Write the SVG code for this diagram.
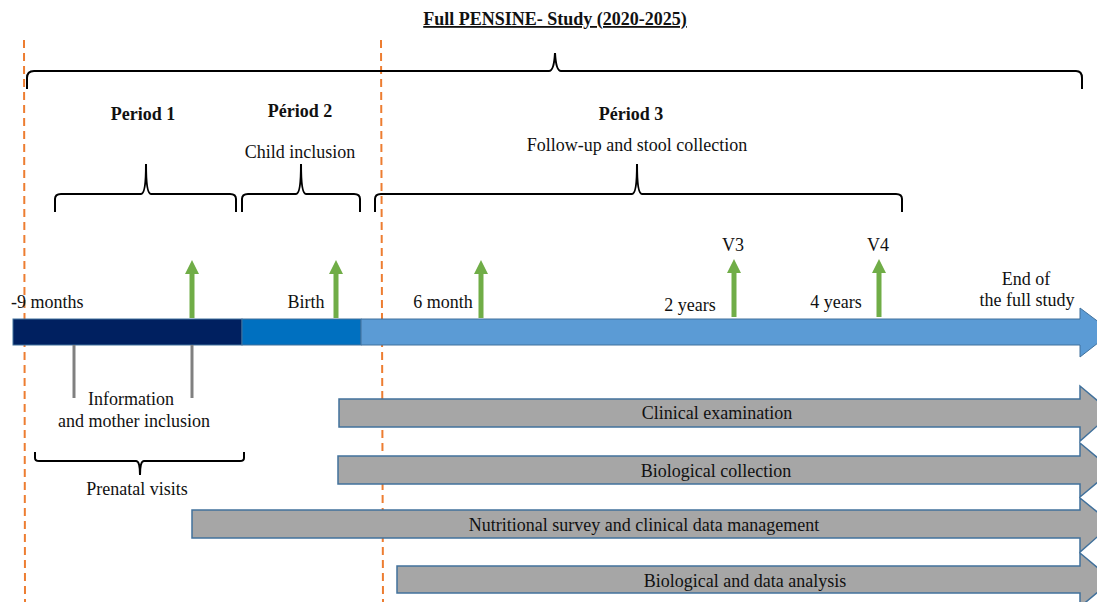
<svg xmlns="http://www.w3.org/2000/svg" width="1097" height="602" viewBox="0 0 1097 602" font-family="'Liberation Serif', 'Times New Roman', Times, serif" font-size="18">
<defs>
<style>
text{fill:#111;}
.b{font-weight:bold;}
.brace{fill:none;stroke:#000;stroke-width:2;}
.orange{stroke:#ED7D31;stroke-width:2;stroke-dasharray:8,5;fill:none;}
.green{fill:#70AD47;}
.tick{stroke:#808080;stroke-width:3;}
.garrow{fill:#A6A6A6;stroke:#41719C;stroke-width:1.5;}
</style>
<path id="garr" d="M-2.5,58 L-2.5,14 L-7,14 L0,0 L7,14 L2.5,14 L2.5,58 Z"/>
</defs>
<rect width="1097" height="602" fill="#fff"/>

<g id="title">
<text class="b" x="555" y="25" text-anchor="middle" text-decoration="underline">Full PENSINE- Study (2020-2025)</text>
</g>

<g id="dividers">
<line class="orange" x1="24" y1="40" x2="25" y2="602"/>
<line class="orange" x1="381" y1="40" x2="383" y2="602"/>
</g>

<g id="full-brace">
<path class="brace" d="M27,89 L27,78 Q27,71 34,71 L549,71 Q554,71 555,53 Q556,71 561,71 L1076,71 Q1082,71 1082,78 L1082,89"/>
</g>

<g id="period1">
<text class="b" x="143" y="120" text-anchor="middle">Period 1</text>
<path class="brace" d="M55,212 L55,199 Q55,194 61,194 L141,194 Q146,194 146,164 Q146,194 151,194 L230,194 Q236,194 236,199 L236,212"/>
</g>

<g id="period2">
<text class="b" x="300" y="117" text-anchor="middle">Périod 2</text>
<text x="300" y="158" text-anchor="middle">Child inclusion</text>
<path class="brace" d="M242,212 L242,199 Q242,194 248,194 L296,194 Q301,194 301,164 Q301,194 306,194 L354,194 Q360,194 360,199 L360,212"/>
</g>

<g id="period3">
<text class="b" x="631" y="120" text-anchor="middle">Périod 3</text>
<text x="637" y="151" text-anchor="middle">Follow-up and stool collection</text>
<path class="brace" d="M375,212 L375,199 Q375,194 381,194 L632,194 Q637,194 637,164 Q637,194 642,194 L896,194 Q902,194 902,199 L902,212"/>
</g>

<g id="timeline">
<rect x="13" y="319" width="229" height="26" fill="#002060" stroke="#41719C" stroke-width="1"/>
<rect x="242" y="319" width="119" height="26" fill="#0070C0" stroke="#41719C" stroke-width="1"/>
<path d="M361,319 L1080,319 L1080,308 L1112,332 L1080,357 L1080,345 L361,345 Z" fill="#5B9BD5" stroke="#41719C" stroke-width="1"/>
</g>

<g id="milestones">
<text x="11" y="308">-9 months</text>
<text x="306" y="308" text-anchor="middle">Birth</text>
<text x="443" y="308" text-anchor="middle">6 month</text>
<text x="690" y="311" text-anchor="middle">2 years</text>
<text x="836" y="308" text-anchor="middle">4 years</text>
<text x="733" y="251" text-anchor="middle">V3</text>
<text x="878" y="251" text-anchor="middle">V4</text>
<text x="1026" y="285" text-anchor="middle">End of</text>
<text x="1027" y="306" text-anchor="middle">the full study</text>
</g>

<g id="connectors">
<use href="#garr" class="green" x="192" y="260"/>
<use href="#garr" class="green" x="336" y="260"/>
<use href="#garr" class="green" x="481" y="260"/>
<use href="#garr" class="green" x="734" y="259"/>
<use href="#garr" class="green" x="879" y="259"/>
<line class="tick" x1="74" y1="345" x2="74" y2="398"/>
<line class="tick" x1="192" y1="345" x2="192" y2="398"/>
</g>

<g id="mother-inclusion">
<text x="131" y="405" text-anchor="middle">Information</text>
<text x="134" y="427" text-anchor="middle">and mother inclusion</text>
</g>

<g id="prenatal">
<path class="brace" d="M35,452 L35,458 Q35,461 39,461 L136,461 Q140,461 140,475 Q140,461 144,461 L240,461 Q244,461 244,458 L244,452"/>
<text x="137" y="495" text-anchor="middle">Prenatal visits</text>
</g>

<g id="clinical">
<path class="garrow" d="M339,399 L1080,399 L1080,386 L1112,413 L1080,441 L1080,427 L339,427 Z"/>
<text x="717" y="419" text-anchor="middle">Clinical examination</text>
</g>

<g id="biocollection">
<path class="garrow" d="M338,456 L1080,456 L1080,443 L1112,470 L1080,497 L1080,484 L338,484 Z"/>
<text x="716" y="477" text-anchor="middle">Biological collection</text>
</g>

<g id="nutrition">
<path class="garrow" d="M192,510 L1080,510 L1080,498 L1112,524 L1080,552 L1080,538 L192,538 Z"/>
<text x="644" y="531" text-anchor="middle">Nutritional survey and clinical data management</text>
</g>

<g id="analysis">
<path class="garrow" d="M397,566 L1080,566 L1080,553 L1112,580 L1080,607 L1080,593 L397,593 Z"/>
<text x="745" y="587" text-anchor="middle">Biological and data analysis</text>
</g>
</svg>
